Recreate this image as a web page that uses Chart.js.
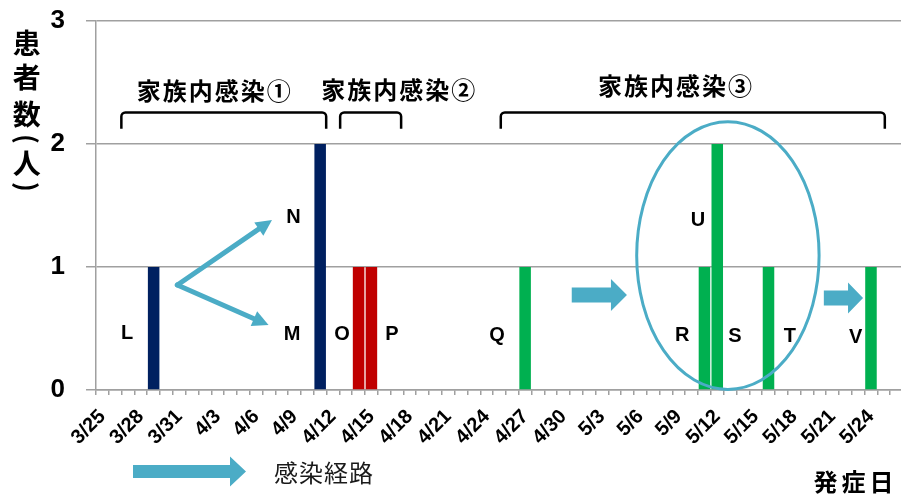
<!DOCTYPE html>
<html lang="ja">
<head>
<meta charset="utf-8">
<title>発症日別患者数</title>
<script src="https://cdn.jsdelivr.net/npm/chart.js@4.4.1/dist/chart.umd.min.js"></script>
<style>
    html, body { margin: 0; padding: 0; background: #ffffff; overflow: hidden; }
    #wrap { position: relative; width: 903px; height: 497px; }
</style>
</head>
<body>
<div id="wrap"><canvas id="onsetChart"></canvas></div>
<script>
// onset dates shown on the x axis, one category per day
var dateLabels = [
    '3/25', '3/26', '3/27', '3/28', '3/29', '3/30', '3/31',
    '4/1', '4/2', '4/3', '4/4', '4/5', '4/6', '4/7', '4/8', '4/9', '4/10',
    '4/11', '4/12', '4/13', '4/14', '4/15', '4/16', '4/17', '4/18', '4/19', '4/20',
    '4/21', '4/22', '4/23', '4/24', '4/25', '4/26', '4/27', '4/28', '4/29', '4/30',
    '5/1', '5/2', '5/3', '5/4', '5/5', '5/6', '5/7', '5/8', '5/9', '5/10',
    '5/11', '5/12', '5/13', '5/14', '5/15', '5/16', '5/17', '5/18', '5/19', '5/20',
    '5/21', '5/22', '5/23', '5/24', '5/25', '5/26'
];

// days with patients, how many, and which family cluster they belong to
var onsetDates = ['3/29', '4/11', '4/14', '4/15', '4/27', '5/11', '5/12', '5/16', '5/24'];
var patientCounts = [1, 2, 1, 1, 1, 1, 2, 1, 1];
var clusterIndex = [0, 0, 1, 1, 2, 2, 2, 2, 2];

var clusterNames = ['家族内感染①', '家族内感染②', '家族内感染③'];
var clusterColors = ['#002060', '#C00000', '#00B050'];

var yTickValues = [0, 1, 2, 3];

var arrowColor = '#4BACC6';
var gridColor = '#a0a0a0';
var jpFont = "'Noto Sans CJK JP', 'Noto Sans', sans-serif";
var latinFont = "'Liberation Sans', Arial, sans-serif";

// one value per day, null where nobody fell ill
var dailyCounts = dateLabels.map(function(d) {
    var k = onsetDates.indexOf(d);
    return k === -1 ? null : patientCounts[k];
});
var dailyColors = dateLabels.map(function(d) {
    var k = onsetDates.indexOf(d);
    return k === -1 ? 'rgba(0,0,0,0)' : clusterColors[clusterIndex[k]];
});

function spacedText(ctx, text, cx, cy, advance) {
    var chars = Array.from(text);
    var start = cx - advance * (chars.length - 1) / 2;
    chars.forEach(function(c, i) {
        ctx.fillText(c, start + i * advance, cy);
    });
}

function blockArrow(ctx, x0, x1, cy, shaftHalf, headHalf, headLen) {
    ctx.beginPath();
    ctx.moveTo(x0, cy - shaftHalf);
    ctx.lineTo(x1 - headLen, cy - shaftHalf);
    ctx.lineTo(x1 - headLen, cy - headHalf);
    ctx.lineTo(x1, cy);
    ctx.lineTo(x1 - headLen, cy + headHalf);
    ctx.lineTo(x1 - headLen, cy + shaftHalf);
    ctx.lineTo(x0, cy + shaftHalf);
    ctx.closePath();
    ctx.fill();
}

function lineArrow(ctx, x0, y0, x1, y1, width, headLen, headHalf) {
    var ang = Math.atan2(y1 - y0, x1 - x0);
    var bx = x1 - Math.cos(ang) * headLen;
    var by = y1 - Math.sin(ang) * headLen;
    ctx.lineWidth = width;
    ctx.lineCap = 'round';
    ctx.beginPath();
    ctx.moveTo(x0, y0);
    ctx.lineTo(bx + Math.cos(ang) * 2, by + Math.sin(ang) * 2);
    ctx.stroke();
    ctx.beginPath();
    ctx.moveTo(x1, y1);
    ctx.lineTo(bx - Math.sin(ang) * headHalf, by + Math.cos(ang) * headHalf);
    ctx.lineTo(bx + Math.sin(ang) * headHalf, by - Math.cos(ang) * headHalf);
    ctx.closePath();
    ctx.fill();
}

function bracket(ctx, x0, x1, yTop, yBottom, r) {
    ctx.beginPath();
    ctx.moveTo(x0, yBottom);
    ctx.arcTo(x0, yTop, x0 + r, yTop, r);
    ctx.arcTo(x1, yTop, x1, yTop + r, r);
    ctx.lineTo(x1, yBottom);
    ctx.stroke();
}

// a parenthesis turned a quarter so it reads in a vertical title
function turnedParen(ctx, ch, cx, cy) {
    ctx.save();
    ctx.translate(cx, cy);
    ctx.rotate(Math.PI / 2);
    ctx.fillText(ch, 0, 0);
    ctx.restore();
}

// brackets, cluster titles, patient letters, transmission arrows and the circled group
var annotationPlugin = {
    id: 'onsetAnnotations',
    afterDatasetsDraw: function(chart) {
        var ctx = chart.ctx;
        var xs = chart.scales.x;
        var ys = chart.scales.y;
        var px = function(i) { return xs.getPixelForValue(i); };
        var py = function(v) { return ys.getPixelForValue(v); };

        ctx.save();

        // cluster brackets
        ctx.strokeStyle = '#000000';
        ctx.lineWidth = 2.5;
        bracket(ctx, px(1.48), px(17.47), py(2.256), py(2.125), 4);
        bracket(ctx, px(18.56), px(23.32), py(2.256), py(2.125), 4);
        bracket(ctx, px(31.1), px(61.08), py(2.256), py(2.125), 4);

        ctx.fillStyle = '#000000';
        ctx.textAlign = 'center';
        ctx.textBaseline = 'middle';
        ctx.font = 'bold 24px ' + jpFont;
        spacedText(ctx, clusterNames[0], px(8.7), py(2.43), 26);
        spacedText(ctx, clusterNames[1], px(23.09), py(2.44), 26);
        spacedText(ctx, clusterNames[2], px(44.7), py(2.47), 26);

        // patient letters
        ctx.font = 'bold 20px ' + latinFont;
        var letters = [
            ['L', 1.93, 0.46], ['M', 14.8, 0.455], ['N', 14.92, 1.40],
            ['O', 18.7, 0.455], ['P', 22.6, 0.455], ['Q', 30.8, 0.447],
            ['R', 45.26, 0.447], ['S', 49.38, 0.433], ['T', 53.66, 0.433],
            ['U', 46.5, 1.38], ['V', 58.8, 0.43]
        ];
        letters.forEach(function(l) {
            ctx.fillText(l[0], px(l[1]), py(l[2]));
        });

        // transmission arrows
        ctx.fillStyle = arrowColor;
        ctx.strokeStyle = arrowColor;
        lineArrow(ctx, px(5.85), py(0.854), px(13.24), py(1.382), 5, 16, 8);
        lineArrow(ctx, px(5.85), py(0.854), px(12.97), py(0.528), 5, 16, 8);
        blockArrow(ctx, px(36.64), px(40.95), py(0.772), 7.5, 16, 16);
        blockArrow(ctx, px(56.32), px(59.38), py(0.748), 7.5, 15.5, 15);

        // ring around the 5/11-5/16 group
        var cx = px(48.83), cy = py(1.093);
        ctx.lineWidth = 3;
        ctx.beginPath();
        ctx.ellipse(cx, cy, px(48.83 + 7.12) - cx, cy - py(1.093 + 1.088), 0, 0, Math.PI * 2);
        ctx.stroke();

        ctx.restore();
    },
    afterDraw: function(chart) {
        var ctx = chart.ctx;
        ctx.save();
        ctx.fillStyle = '#000000';
        ctx.textAlign = 'center';
        ctx.textBaseline = 'middle';

        // vertical y axis title
        ctx.font = 'bold 28px ' + jpFont;
        ctx.fillText('患', 26.7, 43.5);
        ctx.fillText('者', 26.7, 77.5);
        ctx.fillText('数', 26.7, 114);
        ctx.fillText('人', 26.7, 163.5);
        ctx.font = 'bold 26px ' + jpFont;
        turnedParen(ctx, '(', 26.7, 139);
        turnedParen(ctx, ')', 26.7, 187);

        // x axis title
        ctx.font = 'bold 24px ' + jpFont;
        spacedText(ctx, '発症日', 853.5, 482, 28);

        // key for the arrows
        ctx.fillStyle = arrowColor;
        blockArrow(ctx, 133, 246, 471.5, 6.5, 15, 16);
        ctx.fillStyle = '#1a1a1a';
        ctx.font = '24px ' + jpFont;
        spacedText(ctx, '感染経路', 323.5, 472.5, 25);

        ctx.restore();
    }
};

var ctxEl = document.getElementById('onsetChart');
new Chart(ctxEl, {
    type: 'bar',
    data: {
        labels: dateLabels,
        datasets: [{
            label: '患者数',
            data: dailyCounts,
            backgroundColor: dailyColors,
            borderWidth: 0,
            barPercentage: 0.9,
            categoryPercentage: 1.0
        }]
    },
    options: {
        responsive: true,
        maintainAspectRatio: false,
        animation: false,
        layout: { padding: { top: 21, left: 0, right: 0, bottom: 0 } },
        plugins: {
            legend: { display: false },
            tooltip: { enabled: false }
        },
        scales: {
            x: {
                offset: true,
                grid: {
                    offset: true,
                    drawOnChartArea: false,
                    drawTicks: true,
                    tickLength: 5,
                    color: gridColor,
                    lineWidth: 1.5
                },
                border: { display: true, color: gridColor, width: 1.5 },
                ticks: {
                    autoSkip: false,
                    minRotation: 45,
                    maxRotation: 45,
                    padding: 10,
                    color: '#000000',
                    font: { family: latinFont, size: 20, weight: 'bold' },
                    callback: function(value, index) {
                        return index % 3 === 0 ? dateLabels[index] : '';
                    }
                },
                afterFit: function(scale) {
                    scale.height = 107;
                    scale.paddingLeft = 0;
                    scale.paddingRight = 0;
                }
            },
            y: {
                min: yTickValues[0],
                max: yTickValues[yTickValues.length - 1],
                afterBuildTicks: function(scale) {
                    scale.ticks = yTickValues.map(function(v) { return { value: v }; });
                },
                grid: {
                    color: gridColor,
                    lineWidth: 1.5,
                    drawTicks: true,
                    tickLength: 10
                },
                border: { display: true, color: gridColor, width: 1.5 },
                ticks: {
                    padding: 21,
                    color: '#000000',
                    font: { family: latinFont, size: 26, weight: 'bold' }
                },
                afterFit: function(scale) {
                    scale.width = 96;
                    scale.paddingTop = 0;
                    scale.paddingBottom = 0;
                }
            }
        }
    },
    plugins: [annotationPlugin]
});
</script>
</body>
</html>
